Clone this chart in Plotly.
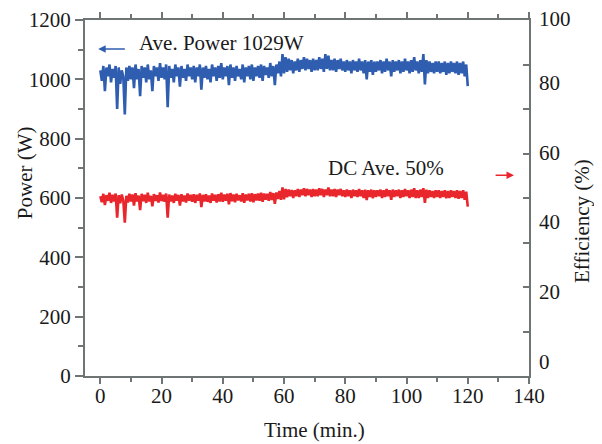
import plotly.graph_objects as go

# time axis, minutes (sampled every 0.5 min)
time_min = [i * 0.5 for i in range(241)]

power_w = [
    1030, 995, 1045, 960, 1040, 1010, 1050, 990, 1035, 1005, 1045, 900, 1040, 985, 1030, 1010, 882, 1040, 995, 1045, 1000,
    1040, 970, 1050, 1000, 1035, 943, 1045, 1005, 1040, 990, 1050, 1000, 1030, 960, 1045, 1010, 1040, 995, 1055, 1005,
    1040, 1000, 1050, 906, 1045, 1005, 1035, 990, 1050, 1010, 1040, 975, 1045, 1005, 1035, 995, 1050, 1010, 1040, 1000,
    1045, 990, 1040, 1010, 1050, 965, 1040, 1005, 1045, 1000, 1035, 990, 1050, 1010, 1040, 995, 1045, 1005, 1055, 1000,
    1040, 1010, 1045, 980, 1050, 1005, 1040, 995, 1045, 1010, 1035, 1000, 1050, 990, 1040, 1010, 1045, 1000, 1050, 995,
    1040, 1010, 1045, 1005, 1050, 995, 1045, 1015, 1040, 1005, 1055, 1010, 1045, 980, 1050, 1020, 1060, 1010, 1085, 1020,
    1075, 1025, 1070, 1030, 1065, 1020, 1060, 1030, 1070, 1025, 1065, 1035, 1075, 1030, 1070, 1035, 1065, 1025, 1070, 1030,
    1065, 1030, 1075, 1035, 1070, 1025, 1085, 1035, 1080, 1030, 1065, 1030, 1070, 1025, 1065, 1035, 1070, 1030, 1060, 1025,
    1065, 1030, 1060, 1020, 1065, 1030, 1060, 1025, 1070, 1030, 1060, 1020, 1065, 1000, 1060, 1025, 1065, 1015, 1060, 1025,
    1060, 1030, 1065, 1020, 1060, 1025, 1070, 1030, 1060, 1010, 1065, 1025, 1060, 1030, 1065, 1020, 1060, 1025, 1070, 1030,
    1060, 1020, 1065, 1025, 1075, 1030, 1060, 1020, 1065, 1025, 1085, 983, 1065, 1020, 1060, 1025, 1055, 1020, 1060, 1025,
    1060, 1020, 1055, 1025, 1060, 1015, 1055, 1020, 1060, 1025, 1055, 1020, 1060, 1015, 1055, 1020, 1060, 1010, 1050, 977,
]

efficiency_pct = [
    47.5, 45.8, 48.2, 45.0, 47.8, 46.2, 48.5, 45.6, 47.9, 46.0, 48.3, 41.4, 47.8, 45.5, 48.0, 46.3, 39.9, 47.6, 45.7, 48.2, 46.0,
    48.0, 44.8, 48.4, 46.0, 47.7, 43.5, 48.2, 46.1, 47.9, 45.6, 48.5, 46.0, 47.6, 44.6, 48.1, 46.2, 47.8, 45.7, 48.6, 46.1,
    47.9, 45.9, 48.3, 41.4, 48.0, 46.0, 47.7, 45.6, 48.2, 46.2, 47.9, 44.8, 48.1, 46.0, 47.7, 45.7, 48.3, 46.2, 47.9, 45.9,
    48.1, 45.6, 47.9, 46.2, 48.3, 44.4, 47.9, 46.0, 48.1, 45.9, 47.7, 45.6, 48.3, 46.2, 47.9, 45.7, 48.1, 46.0, 48.5, 45.9,
    48.0, 46.2, 48.2, 45.2, 48.4, 46.1, 48.0, 45.8, 48.2, 46.3, 47.8, 46.0, 48.4, 45.6, 48.0, 46.3, 48.2, 46.0, 48.4, 45.8,
    48.1, 46.3, 48.3, 46.2, 48.5, 45.9, 48.3, 46.5, 48.2, 46.2, 48.7, 46.4, 48.4, 45.3, 48.6, 46.7, 49.0, 46.5, 50.0, 46.6,
    49.6, 47.2, 49.4, 47.5, 49.3, 47.0, 49.2, 47.5, 49.6, 47.3, 49.4, 47.8, 49.8, 47.5, 49.6, 47.8, 49.4, 47.3, 49.6, 47.5,
    49.4, 47.5, 49.8, 47.8, 49.6, 47.3, 49.4, 47.8, 50.0, 47.5, 49.4, 47.5, 49.6, 47.3, 49.4, 47.8, 49.6, 47.5, 49.2, 47.3,
    49.4, 47.5, 49.2, 47.0, 49.4, 47.5, 49.2, 47.3, 49.6, 47.5, 49.2, 47.0, 49.4, 46.4, 49.2, 47.3, 49.4, 46.9, 49.2, 47.3,
    49.2, 47.5, 49.4, 47.0, 49.2, 47.3, 49.6, 47.5, 49.2, 46.5, 49.4, 47.3, 49.2, 47.5, 49.4, 47.0, 49.2, 47.3, 49.6, 47.5,
    49.2, 47.0, 49.4, 47.3, 49.8, 47.0, 49.2, 47.0, 49.4, 47.3, 49.8, 45.6, 49.4, 47.0, 49.2, 47.3, 49.0, 47.0, 49.2, 47.3,
    49.2, 47.0, 49.0, 47.3, 49.2, 46.9, 49.0, 47.0, 49.2, 47.3, 49.0, 47.0, 49.2, 46.8, 49.0, 47.0, 49.2, 46.5, 48.8, 44.5,
]

x_ticks = [0, 20, 40, 60, 80, 100, 120, 140]
power_ticks = [0, 200, 400, 600, 800, 1000, 1200]
eff_ticks = [0, 20, 40, 60, 80, 100]
EFF_RANGE = [-4.0, 98.0]

BLUE = "#2f5db0"
RED = "#e8262c"
AXIS = "#6f7474"
TXT = "#1a1a1a"
FONT = "Liberation Serif"
FS = 21

fig = go.Figure()
fig.add_trace(go.Scatter(x=time_min, y=power_w, mode="lines",
                         line=dict(color=BLUE, width=2.6), showlegend=False))
fig.add_trace(go.Scatter(x=time_min, y=efficiency_pct, mode="lines", yaxis="y2",
                         line=dict(color=RED, width=2.6), showlegend=False))
# invisible trace to activate the right-side tick axis
fig.add_trace(go.Scatter(x=[None], y=[None], yaxis="y3", showlegend=False, hoverinfo="skip"))

annotations = []
# right axis labels (offset from tick marks as in the original)
span = EFF_RANGE[1] - EFF_RANGE[0]
for v in eff_ticks:
    annotations.append(dict(xref="paper", yref="paper", x=1.0203, y=(v - EFF_RANGE[0]) / span,
                            text=str(v), showarrow=False, xanchor="left", yanchor="middle",
                            yshift=-6 if v == 100 else 0, borderpad=0,
                            font=dict(family=FONT, size=FS, color=TXT)))
annotations += [
    dict(xref="paper", yref="paper", x=-0.135, y=0.57, text="Power (W)", textangle=-90,
         xanchor="center", yanchor="middle",
         showarrow=False, font=dict(family=FONT, size=FS, color=TXT)),
    dict(xref="paper", yref="paper", x=1.119, y=0.435, text="Efficiency (%)", textangle=-90,
         xanchor="center", yanchor="middle",
         showarrow=False, font=dict(family=FONT, size=FS, color=TXT)),
    dict(xref="paper", yref="paper", x=0.518, y=-0.152, text="Time (min.)",
         xanchor="center", yanchor="middle",
         showarrow=False, font=dict(family=FONT, size=FS, color=TXT)),
    dict(x=12.1, y=1122, text="Ave. Power 1029W", showarrow=False, xanchor="left",
         font=dict(family=FONT, size=FS, color=TXT)),
    dict(x=73.6, y=701, text="DC Ave. 50%", showarrow=False, xanchor="left",
         font=dict(family=FONT, size=FS, color=TXT)),
    dict(x=-0.7, y=1102, ax=8.5, ay=1102, axref="x", ayref="y", text="", showarrow=True,
         arrowhead=2, arrowsize=1, arrowwidth=1.5, arrowcolor=BLUE),
    dict(x=135.1, y=677, ax=128.6, ay=677, axref="x", ayref="y", text="", showarrow=True,
         arrowhead=2, arrowsize=1, arrowwidth=1.5, arrowcolor=RED),
]

# the page body adds an 8px offset, so margins are compensated
fig.update_layout(
    width=602, height=444,
    margin=dict(l=77, r=81, t=12, b=76, autoexpand=False),
    paper_bgcolor="white", plot_bgcolor="white",
    font=dict(family=FONT, size=FS, color=TXT),
    xaxis=dict(range=[-5, 140], tickvals=x_ticks, ticks="outside", ticklen=6, tickwidth=2,
               tickcolor=AXIS, showline=True, linecolor=AXIS, linewidth=2, mirror="ticks",
               showgrid=False, zeroline=False, automargin=False, ticklabelstandoff=-6,
               tickfont=dict(family=FONT, size=FS, color=TXT),
               minor=dict(dtick=10, ticks="outside", ticklen=4, tickwidth=2, tickcolor=AXIS)),
    yaxis=dict(range=[0, 1200], tickvals=power_ticks, ticks="outside", ticklen=8, tickwidth=2,
               tickcolor=AXIS, showline=True, linecolor=AXIS, linewidth=2,
               showgrid=False, zeroline=False, automargin=False,
               tickfont=dict(family=FONT, size=FS, color=TXT),
               minor=dict(dtick=100, ticks="outside", ticklen=5, tickwidth=2, tickcolor=AXIS)),
    yaxis2=dict(range=EFF_RANGE, overlaying="y", side="right", showticklabels=False,
                ticks="", showgrid=False, zeroline=False, showline=False, automargin=False),
    yaxis3=dict(range=[0, 8], overlaying="y", side="right", dtick=1, showticklabels=False,
                ticks="inside", ticklen=6, tickwidth=2, tickcolor=AXIS, showline=True,
                linecolor=AXIS, linewidth=2, showgrid=False, zeroline=False, automargin=False),
    annotations=annotations,
)

fig.write_html("out.html")
